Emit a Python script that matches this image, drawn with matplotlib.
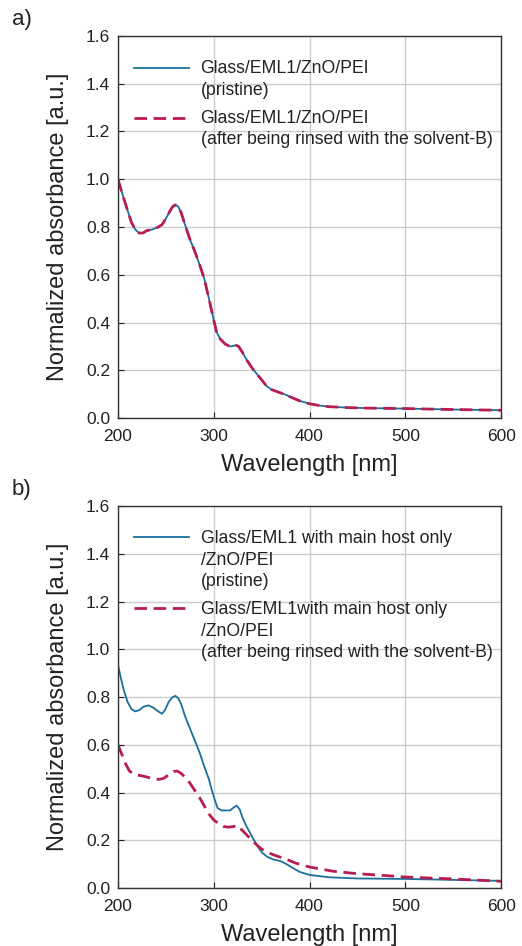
import matplotlib
matplotlib.use("Agg")
from matplotlib import pyplot as plt
from matplotlib.legend_handler import HandlerLine2D

plt.rcParams['font.family'] = ['Liberation Sans', 'DejaVu Sans']

# panel a) - pristine vs rinsed (curves nearly identical)
wl_a = [200, 203, 206, 210, 214, 218, 222, 226, 230, 236, 242, 246, 250, 254, 257, 260,
        263, 266, 270, 275, 280, 285, 290, 295, 300, 303, 307, 312, 317, 320, 323, 326,
        330, 335, 340, 345, 350, 355, 360, 368, 375, 382, 390, 400, 410, 420, 440, 460,
        500, 550, 600]
abs_a_pristine = [1.0, 0.96, 0.92, 0.87, 0.82, 0.79, 0.775, 0.775, 0.785, 0.79, 0.80,
                  0.81, 0.835, 0.865, 0.885, 0.893, 0.885, 0.86, 0.81, 0.75, 0.70, 0.645,
                  0.585, 0.50, 0.41, 0.36, 0.33, 0.31, 0.30, 0.302, 0.305, 0.30, 0.275,
                  0.24, 0.21, 0.185, 0.16, 0.135, 0.12, 0.108, 0.098, 0.085, 0.072, 0.06,
                  0.053, 0.048, 0.044, 0.042, 0.040, 0.036, 0.033]
abs_a_rinsed = [1.0, 0.96, 0.92, 0.87, 0.82, 0.79, 0.775, 0.775, 0.785, 0.79, 0.80,
                0.81, 0.835, 0.865, 0.885, 0.893, 0.885, 0.86, 0.81, 0.75, 0.70, 0.645,
                0.585, 0.50, 0.41, 0.36, 0.33, 0.31, 0.30, 0.302, 0.305, 0.30, 0.275,
                0.24, 0.21, 0.185, 0.16, 0.135, 0.12, 0.108, 0.098, 0.085, 0.072, 0.06,
                0.053, 0.048, 0.044, 0.042, 0.040, 0.036, 0.033]

# panel b) - main host only
wl_b_pristine = [200, 203, 206, 210, 214, 218, 222, 227, 232, 237, 242, 246, 249, 253,
                 257, 260, 263, 266, 270, 275, 280, 285, 290, 295, 298, 301, 304, 308,
                 313, 317, 321, 324, 327, 330, 334, 340, 345, 350, 356, 362, 370, 376,
                 382, 390, 400, 420, 450, 500, 550, 600]
abs_b_pristine = [0.935, 0.88, 0.83, 0.78, 0.75, 0.74, 0.745, 0.76, 0.765, 0.755, 0.74,
                  0.73, 0.745, 0.78, 0.80, 0.805, 0.795, 0.77, 0.72, 0.67, 0.62, 0.57,
                  0.51, 0.455, 0.41, 0.37, 0.335, 0.325, 0.325, 0.325, 0.338, 0.345,
                  0.33, 0.295, 0.26, 0.215, 0.18, 0.15, 0.13, 0.12, 0.112, 0.10, 0.085,
                  0.067, 0.055, 0.045, 0.040, 0.038, 0.034, 0.030]
wl_b_rinsed = [200, 204, 208, 212, 217, 225, 235, 243, 248, 253, 258, 262, 266, 270,
               275, 280, 285, 290, 295, 300, 305, 310, 315, 320, 325, 329, 335, 340,
               345, 350, 357, 365, 375, 385, 395, 400, 425, 450, 480, 500, 525, 550,
               575, 600]
abs_b_rinsed = [0.60, 0.56, 0.52, 0.49, 0.475, 0.47, 0.46, 0.455, 0.46, 0.475, 0.488,
                0.49, 0.48, 0.465, 0.44, 0.41, 0.38, 0.345, 0.31, 0.285, 0.27, 0.258,
                0.255, 0.257, 0.262, 0.245, 0.22, 0.20, 0.18, 0.163, 0.148, 0.135,
                0.122, 0.105, 0.093, 0.088, 0.07, 0.06, 0.052, 0.046, 0.042, 0.038,
                0.033, 0.028]

labels_a = ['Glass/EML1/ZnO/PEI\n(pristine)',
            'Glass/EML1/ZnO/PEI\n(after being rinsed with the solvent-B)']
labels_b = ['Glass/EML1 with main host only\n/ZnO/PEI\n(pristine)',
            'Glass/EML1with main host only\n/ZnO/PEI\n(after being rinsed with the solvent-B)']

BLUE = '#1a6f9c'
RED = '#b81c50'
FS = 12.7
LSP = 1.33


class TopHandler(HandlerLine2D):
    # put the legend line next to the first text line, not the middle
    def __init__(self, nlines, **kw):
        super().__init__(**kw)
        self.shift = (nlines - 1) * LSP * FS

    def create_artists(self, legend, orig_handle, xdescent, ydescent, width, height,
                       fontsize, trans):
        return super().create_artists(legend, orig_handle, xdescent, ydescent - self.shift,
                                      width, height, fontsize, trans)


def panel(ax, x1, y1, x2, y2, labels, tag):
    l1, = ax.plot(x1, y1, color=BLUE, lw=1.3, label=labels[0])
    l2, = ax.plot(x2, y2, color=RED, lw=2.0, dashes=(4.5, 2.4), label=labels[1])
    ax.set_xlim(200, 600)
    ax.set_ylim(0, 1.6)
    ax.set_xticks([200, 300, 400, 500, 600])
    ax.set_yticks([0.0, 0.2, 0.4, 0.6, 0.8, 1.0, 1.2, 1.4, 1.6])
    ax.set_yticklabels(['%.1f' % v for v in ax.get_yticks()])
    ax.grid(True, color='#cccccc', lw=1.0)
    ax.set_axisbelow(True)
    ax.tick_params(direction='in', length=4, labelsize=12.5, colors='#222222')
    ax.tick_params(axis='x', pad=8)
    ax.tick_params(axis='y', pad=5.5)
    for s in ax.spines.values():
        s.set_color('#333333')
        s.set_linewidth(1.0)
    ax.set_xlabel('Wavelength [nm]', fontsize=17, labelpad=7, color='#222222')
    ax.set_ylabel('Normalized absorbance [a.u.]', fontsize=17, labelpad=12, color='#222222')
    n = [lab.count('\n') + 1 for lab in labels]
    leg = ax.legend(handles=[l1, l2], loc='upper left', frameon=False, fontsize=FS,
                    handlelength=3.1, handletextpad=0.68, labelspacing=0.65,
                    bbox_to_anchor=(0.0, 0.978),
                    handler_map={l1: TopHandler(n[0]), l2: TopHandler(n[1])})
    for t in leg.get_texts():
        t.set_linespacing(LSP)
        t.set_color('#222222')
    ax.text(-0.277, 1.043, tag, transform=ax.transAxes, fontsize=16, color='#222222',
            va='center', ha='left')


fig = plt.figure(figsize=(5.22, 9.46), dpi=100)
ax_a = fig.add_axes([0.226, 0.558, 0.734, 0.404])
ax_b = fig.add_axes([0.226, 0.0613, 0.734, 0.4037])
panel(ax_a, wl_a, abs_a_pristine, wl_a, abs_a_rinsed, labels_a, 'a)')
panel(ax_b, wl_b_pristine, abs_b_pristine, wl_b_rinsed, abs_b_rinsed, labels_b, 'b)')

fig.savefig('out.png', dpi=100)
